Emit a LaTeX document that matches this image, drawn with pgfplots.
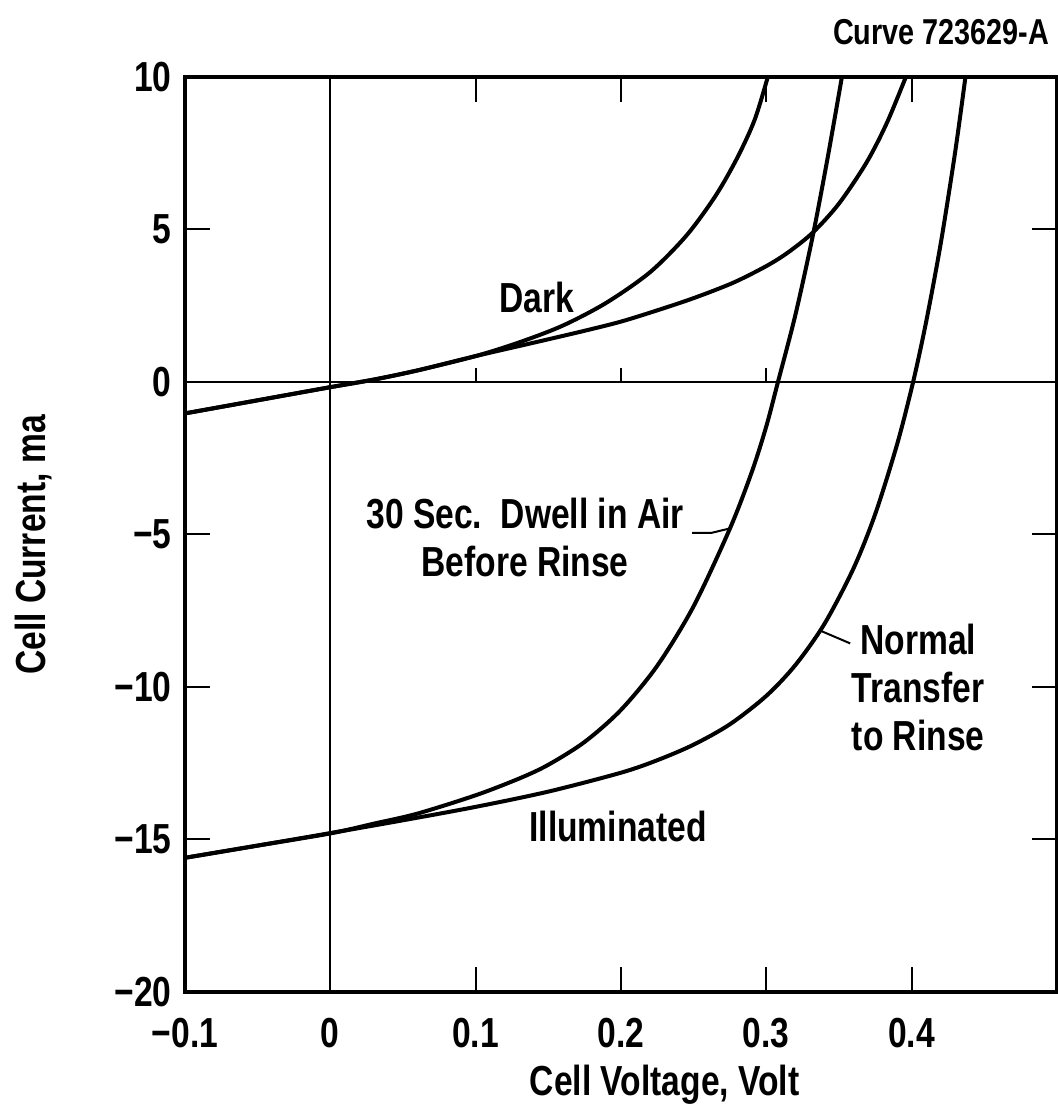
\documentclass[border=0pt]{standalone}
\usepackage{fontspec}
\setmainfont{Liberation Sans}[FakeStretch=0.8]
\usepackage{pgfplots}
\pgfplotsset{compat=1.18}
\newcommand{\lf}{\fontsize{21}{24}\selectfont\bfseries}
\begin{document}
\begin{tikzpicture}
\begin{axis}[
  at={(0,0)}, anchor=south west,
  scale only axis, width=436pt, height=457.5pt,
  xmin=-0.1, xmax=0.5, ymin=-20, ymax=10,
  clip=false,
  axis line style={line width=2.2pt},
  xtick={-0.1,0,0.1,0.2,0.3,0.4},
  xticklabels={−0.1,0,0.1,0.2,0.3,0.4},
  ytick={-20,-15,-10,-5,0,5,10},
  yticklabels={−20,−15,−10,−5,0,5,10},
  tick align=inside, major tick length=12.5pt,
  tick style={line width=1pt, black},
  ticklabel style={font=\lf},
  xticklabel style={inner sep=0pt, yshift=-13pt},
  yticklabel style={inner sep=0pt, xshift=-6.5pt},
  xlabel={Cell Voltage, Volt},
  ylabel={Cell Current, ma},
  xlabel style={at={(axis description cs:0.55,-0.101)}, anchor=center, inner sep=0pt, font=\lf},
  ylabel style={at={(axis description cs:-0.174,0.4885)}, anchor=center, inner sep=0pt, font=\lf},
]
% zero lines
\draw[line width=1pt] (axis cs:-0.1,0) -- (axis cs:0.5,0);
\draw[line width=1pt] (axis cs:0,-20) -- (axis cs:0,10);
\draw[line width=1pt] ([yshift=7pt]axis cs:0.1,0) -- (axis cs:0.1,0);
\draw[line width=1pt] ([yshift=7pt]axis cs:0.2,0) -- (axis cs:0.2,0);
\draw[line width=1pt] ([yshift=7pt]axis cs:0.3,0) -- (axis cs:0.3,0);
% Dark, steeper (30 sec dwell)
\addplot[black, line width=2pt, smooth] coordinates {
(-0.1,-1.03) (-0.05,-0.6) (0,-0.17) (0.03,0.08) (0.06,0.38) (0.1,0.85)
(0.13,1.3) (0.16,1.85) (0.19,2.6) (0.22,3.6) (0.245,4.8) (0.265,6.1)
(0.28,7.35) (0.292,8.6) (0.301,10)};
% Dark, shallower (normal transfer)
\addplot[black, line width=2pt, smooth] coordinates {
(-0.1,-1.03) (-0.05,-0.6) (0,-0.17) (0.03,0.08) (0.06,0.38) (0.1,0.85)
(0.13,1.18) (0.15,1.4) (0.175,1.68) (0.2,1.98) (0.225,2.35) (0.25,2.75)
(0.277,3.25) (0.3,3.8) (0.315,4.25) (0.332,4.9) (0.35,5.85) (0.369,7.2)
(0.383,8.5) (0.396,10)};
% Illuminated, 30 sec dwell
\addplot[black, line width=2pt, smooth] coordinates {
(-0.1,-15.6) (-0.05,-15.2) (0,-14.8) (0.03,-14.48) (0.06,-14.15) (0.1,-13.55)
(0.13,-13.0) (0.15,-12.55) (0.175,-11.8) (0.2,-10.75) (0.225,-9.3) (0.25,-7.35)
(0.275,-4.8) (0.29,-2.95) (0.3,-1.45) (0.308,0) (0.32,2.2) (0.332,4.8)
(0.342,7.3) (0.352,10)};
% Illuminated, normal transfer
\addplot[black, line width=2pt, smooth] coordinates {
(-0.1,-15.6) (-0.05,-15.2) (0,-14.79) (0.05,-14.37) (0.1,-13.93) (0.15,-13.43)
(0.2,-12.81) (0.225,-12.40) (0.25,-11.89) (0.275,-11.22) (0.3,-10.29)
(0.32,-9.28) (0.34,-7.93) (0.36,-6.11) (0.375,-4.32) (0.39,-2.04) (0.401,0)
(0.41,1.98) (0.42,4.54) (0.43,7.56) (0.437,10)};
% labels
\node[font=\lf] at (axis cs:0.142,2.78) {Dark};
\node[font=\lf, align=center] at (axis cs:0.134,-5.11) {30 Sec.\ \ Dwell in Air\\Before Rinse};
\draw[line width=1pt] (axis cs:0.249,-4.95) -- (axis cs:0.262,-4.95) -- (axis cs:0.275,-4.8);
\node[font=\lf, align=center] at (axis cs:0.4045,-10.0) {Normal\\Transfer\\to Rinse};
\draw[line width=1pt] (axis cs:0.337,-8.15) -- (axis cs:0.3577,-8.57);
\node[font=\lf] at (axis cs:0.198,-14.58) {Illuminated};
\node[font=\fontsize{18}{20}\selectfont\bfseries] at (axis cs:0.4203,11.47) {Curve 723629-A};
\end{axis}
\pgfresetboundingbox
\path[use as bounding box] (-92.5pt,-58pt) rectangle (436.5pt,496pt);
\end{tikzpicture}
\end{document}
